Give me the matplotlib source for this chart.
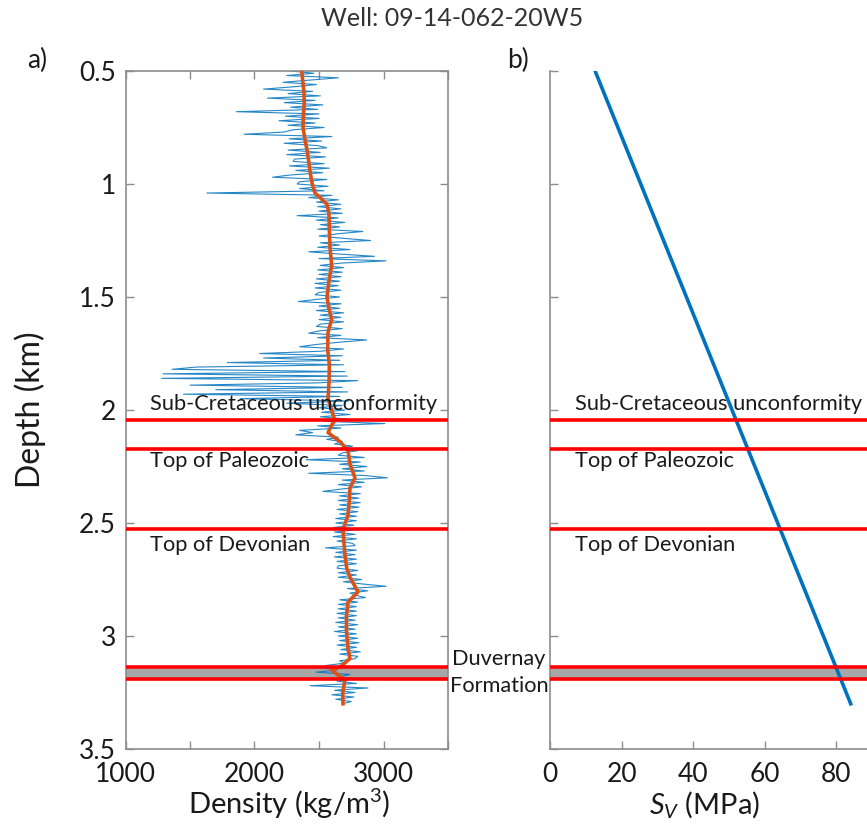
import matplotlib
matplotlib.use("Agg")
import matplotlib.pyplot as plt
import numpy as np

plt.rcParams['font.family'] = ['Lato', 'DejaVu Sans']
plt.rcParams['mathtext.fontset'] = 'custom'
plt.rcParams['mathtext.it'] = 'Lato:italic'
plt.rcParams['mathtext.rm'] = 'Lato'

# ---------------- data ----------------
# density log, depth 0.50 .. 3.30 km, 0.01 km sampling
log_depth_start = 0.50
log_depth_step = 0.01
density_log = [
    2280, 2460, 2250, 2650, 2430, 2220, 2480, 2300, 2070, 2450,
    2260, 2510, 2100, 2470, 2230, 2530, 2280, 2490, 1860, 2500,
    2240, 2500, 2190, 2470, 2260, 2540, 2300, 2230, 1920, 2600,
    2270, 2520, 2230, 2490, 2560, 2260, 2510, 2250, 2550, 2310,
    2300, 2540, 2270, 2580, 2320, 2530, 2280, 2140, 2560, 2350,
    2330, 2570, 2350, 2540, 1630, 2600, 2420, 2650, 2480, 2670,
    2490, 2670, 2500, 2680, 2330, 2650, 2480, 2700, 2510, 2660,
    2490, 2840, 2650, 2500, 2680, 2900, 2510, 2660, 2490, 2740,
    2420, 2660, 2930, 2500, 3020, 2670, 2510, 2690, 2490, 2680,
    2500, 2670, 2480, 2660, 2470, 2650, 2470, 2670, 2500, 2470,
    2660, 2490, 2340, 2670, 2500, 2660, 2480, 2690, 2510, 2670,
    2500, 2690, 2510, 2480, 2680, 2500, 2420, 2670, 2490, 2870,
    2660, 2480, 2350, 2690, 2510, 2040, 2680, 2070, 2660, 1790,
    2690, 1550, 1360, 2700, 1290, 2720, 1280, 2800, 2490, 1500,
    2680, 1700, 2720, 1450, 2660, 1890, 2730, 2250, 2680, 2500,
    2700, 2520, 2740, 2510, 2720, 2540, 3010, 2490, 2670, 2350,
    2450, 2320, 2650, 2560, 2680, 2620, 2760, 2650, 2800, 2680,
    2650, 2850, 2400, 2820, 2660, 2870, 2680, 2850, 2420, 2860,
    3030, 2680, 2850, 2650, 2830, 2670, 2530, 2820, 2660, 2810,
    2650, 2820, 2660, 2810, 2640, 2800, 2660, 2790, 2630, 2790,
    2630, 2770, 2610, 2790, 2620, 2780, 2610, 2790, 2640, 2760,
    2780, 2550, 2790, 2630, 2780, 2620, 2790, 2640, 2790, 2650,
    2640, 2800, 2650, 2790, 2650, 2830, 2690, 2840, 3020, 2720,
    2880, 2740, 2790, 2860, 2660, 2800, 2650, 2790, 2650, 2790,
    2640, 2790, 2650, 2780, 2630, 2800, 2650, 2780, 2620, 2790,
    2650, 2800, 2660, 2810, 2640, 2790, 2670, 2820, 2660, 2800,
    2780, 2660, 2700, 2560, 2520, 2640, 2480, 2740, 2660, 2740,
    2640, 2790, 2430, 2880, 2620, 2780, 2600, 2770, 2630, 2750, 2680,
]

# smoothed density (orange)
smooth_depth = [0.50, 0.55, 0.60, 0.65, 0.70, 0.75, 0.80, 0.85, 0.90, 0.95,
                1.00, 1.04, 1.06, 1.09, 1.13, 1.20, 1.28, 1.36, 1.43, 1.50,
                1.55, 1.60, 1.655, 1.73, 1.80, 1.87, 1.95, 2.02, 2.045, 2.065,
                2.10, 2.14, 2.18, 2.24, 2.30, 2.345, 2.40, 2.465, 2.53, 2.60,
                2.64, 2.70, 2.74, 2.805, 2.85, 2.91, 2.98, 3.055, 3.10, 3.137,
                3.15, 3.18, 3.195, 3.25, 3.30]
smooth_density = [2366, 2375, 2384, 2385, 2378, 2376, 2390, 2407, 2420, 2432,
                  2448, 2469, 2508, 2562, 2577, 2580, 2585, 2598, 2577, 2562,
                  2577, 2598, 2570, 2567, 2580, 2578, 2570, 2608, 2624, 2600,
                  2570, 2663, 2725, 2740, 2779, 2740, 2735, 2725, 2686, 2695,
                  2701, 2715, 2740, 2802, 2725, 2713, 2713, 2725, 2740, 2663,
                  2598, 2663, 2701, 2684, 2686]

# vertical stress
sv_depth = [0.50, 3.30]
sv_mpa = [12.6, 84.0]

# formation tops (km)
tops = [2.044, 2.174, 2.527, 3.138, 3.19]
top_labels = ["Sub-Cretaceous unconformity", "Top of Paleozoic", "Top of Devonian"]
top_label_depths = [1.973, 2.226, 2.597]
duvernay = (3.138, 3.19)

density_ticks = [1000, 1500, 2000, 2500, 3000, 3500]
density_ticklabels = ['1000', '', '2000', '', '3000', '']
depth_ticks = [0.5, 1, 1.5, 2, 2.5, 3, 3.5]
depth_ticklabels = ['0.5', '1', '1.5', '2', '2.5', '3', '3.5']
sv_ticks = [0, 20, 40, 60, 80]

# ---------------- figure ----------------
W, H = 867, 831
fig = plt.figure(figsize=(W / 100, H / 100), dpi=100)

spine_col = '#8c8c8c'
text_col = '#1a1a1a'
blue = '#0072BD'
orange = '#D95319'
ann_fs = 15.7
tick_fs = 19
lab_fs = 21


def frac_x(px):
    return px / W


def frac_y(py):
    return 1 - py / H


ax1 = fig.add_axes([frac_x(125.5), frac_y(749), (448 - 125.5) / W, 678 / H])
ax2 = fig.add_axes([frac_x(550), frac_y(749), 358 / W, 678 / H])

log_depth = log_depth_start + log_depth_step * np.arange(len(density_log))

# ---- panel a
ax1.axhspan(duvernay[0], duvernay[1], color='#a6a6a6', zorder=1, lw=0)
ax1.plot(density_log, log_depth, color=blue, lw=0.8, alpha=0.85, zorder=2)
ax1.plot(smooth_density, smooth_depth, color=orange, lw=2.6, zorder=3)
for t in tops:
    ax1.axhline(t, color='#ff0000', lw=2.6, zorder=4)
for lab, dd in zip(top_labels, top_label_depths):
    ax1.text(1190, dd, lab, fontsize=ann_fs, color=text_col, va='center', ha='left', zorder=5)

ax1.set_xlim(1000, 3500)
ax1.set_ylim(3.5, 0.5)
ax1.set_xticks(density_ticks)
ax1.set_xticklabels(density_ticklabels)
ax1.set_yticks(depth_ticks)
ax1.set_yticklabels(depth_ticklabels)
ax1.tick_params(direction='in', length=6, width=1, color=spine_col, labelsize=tick_fs,
                labelcolor=text_col, top=True, right=True)
ax1.tick_params(axis='x', pad=9)
ax1.tick_params(axis='y', pad=7)
for s in ax1.spines.values():
    s.set_color(spine_col)
    s.set_linewidth(1.2)

# ---- panel b
ax2.axhspan(duvernay[0], duvernay[1], color='#a6a6a6', zorder=1, lw=0)
for t in tops:
    ax2.axhline(t, color='#ff0000', lw=2.6, zorder=4)
ax2.plot(sv_mpa, sv_depth, color=blue, lw=2.6, zorder=3)
for lab, dd in zip(top_labels, top_label_depths):
    ax2.text(7.0, dd, lab, fontsize=ann_fs, color=text_col, va='center', ha='left', zorder=5)
ax2.set_xlim(0, 100)
ax2.set_ylim(3.5, 0.5)
ax2.set_xticks(sv_ticks)
ax2.set_yticks(depth_ticks)
ax2.set_yticklabels([])
ax2.tick_params(direction='in', length=6, width=1, color=spine_col, labelsize=tick_fs,
                labelcolor=text_col)
ax2.tick_params(axis='x', pad=9)
ax2.spines['top'].set_visible(False)
ax2.spines['right'].set_visible(False)
for s in ax2.spines.values():
    s.set_color(spine_col)
    s.set_linewidth(1.2)

# axis labels
fig.text(frac_x(289), frac_y(804), 'Density (kg/m$^3$)', fontsize=lab_fs, color=text_col,
         va='center', ha='center')
fig.text(frac_x(705), frac_y(804), '$S_V$ (MPa)', fontsize=lab_fs, color=text_col,
         va='center', ha='center')

# Duvernay label between panels
fig.text(frac_x(499), frac_y(659), 'Duvernay', fontsize=ann_fs, color=text_col,
         va='center', ha='center')
fig.text(frac_x(499), frac_y(686), 'Formation', fontsize=ann_fs, color=text_col,
         va='center', ha='center')

# labels
fig.text(frac_x(30), frac_y(410), 'Depth (km)', fontsize=23, color=text_col, rotation=90,
         va='center', ha='center')
fig.text(frac_x(452), frac_y(18), 'Well: 09-14-062-20W5', fontsize=18, color='#333333',
         va='center', ha='center')
fig.text(frac_x(37), frac_y(60), 'a)', fontsize=19, color=text_col, va='center', ha='center')
fig.text(frac_x(518), frac_y(60), 'b)', fontsize=19, color=text_col, va='center', ha='center')

fig.savefig('out.png', dpi=100)
